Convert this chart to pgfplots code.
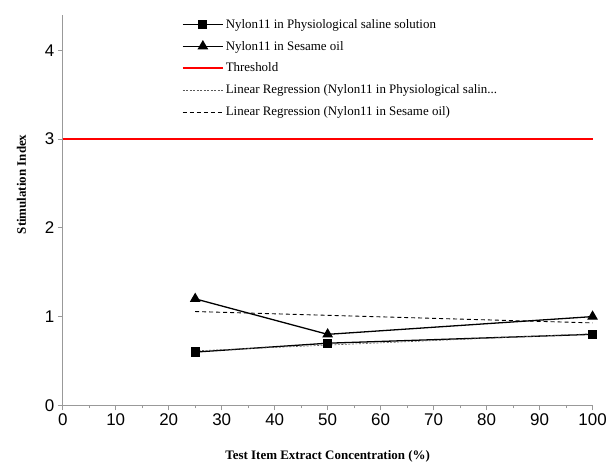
\documentclass[border=0pt]{standalone}
\usepackage{pgfplots}
\pgfplotsset{compat=1.18}
\usepackage{fontspec}
\setmainfont{Liberation Serif}
\newfontfamily\arial{Liberation Sans}
\begin{document}
\begin{tikzpicture}
\begin{axis}[
  scale only axis,
  width=532pt, height=392pt,
  xmin=0, xmax=100, ymin=0, ymax=4.4,
  axis lines*=left,
  axis line style={gray!80, line width=0.8pt},
  every tick/.style={gray!80, line width=0.8pt},
  tick align=outside,
  xtick={0,10,...,100},
  minor xtick={5,15,...,95},
  ytick={0,1,2,3,4},
  major tick length=5pt,
  minor tick length=3pt,
  tick label style={font=\arial\fontsize{17}{19}\selectfont},
  /pgf/number format/assume math mode=true,
  xlabel={\bfseries\fontsize{13}{15}\selectfont Test Item Extract Concentration (\%)},
  ylabel={\bfseries\fontsize{13}{15}\selectfont Stimulation Index},
  xlabel style={yshift=-18pt},
  ylabel style={at={(ticklabel cs:0.566)}, yshift=12pt},
  clip=false,
  legend cell align=left,
  legend style={draw=none, fill=none, at={(rel axis cs:0.219,1.0)}, anchor=north west,
    font=\fontsize{13}{15}\selectfont, row sep=7.5pt},
  legend image code/.code={\draw[#1] (0pt,0pt) -- (40pt,0pt); \path[#1,mark repeat=2,mark phase=2] plot coordinates {(0pt,0pt) (20pt,0pt) (40pt,0pt)};},
]
\addplot[black, line width=1.3pt, mark=square*, mark size=4pt, mark options={solid}] coordinates {(25,0.6) (50,0.7) (100,0.8)};
\addlegendentry{Nylon11 in Physiological saline solution}
\addplot[black, line width=1.3pt, mark=triangle*, mark size=5pt, mark options={solid}] coordinates {(25,1.2) (50,0.8) (100,1.0)};
\addlegendentry{Nylon11 in Sesame oil}
\addplot[red, line width=2pt, no marks] coordinates {(0,3) (100,3)};
\addlegendentry{Threshold}
\addplot[gray!70!black, line width=0.6pt, dash pattern=on 2pt off 1.5pt, no marks] coordinates {(25,0.614) (100,0.807)};
\addlegendentry{Linear Regression (Nylon11 in Physiological salin...}
\addplot[black, line width=0.9pt, dash pattern=on 4pt off 3pt, no marks] coordinates {(25,1.057) (100,0.929)};
\addlegendentry{Linear Regression (Nylon11 in Sesame oil)}
\end{axis}
\useasboundingbox ([xshift=-63pt,yshift=-59pt]current axis.south west) rectangle ([xshift=15pt,yshift=15pt]current axis.north east);
\end{tikzpicture}
\end{document}
